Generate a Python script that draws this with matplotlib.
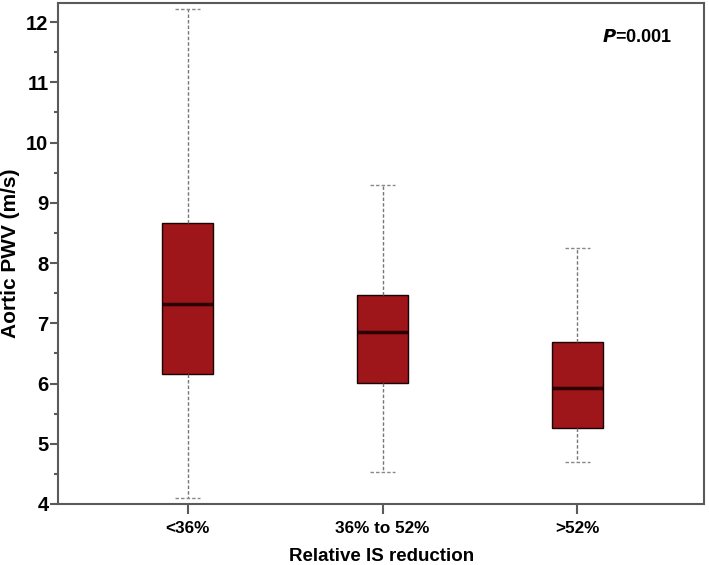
import numpy as np
import matplotlib.pyplot as plt
from matplotlib.ticker import MultipleLocator

plt.rcParams["font.family"] = ["Liberation Sans", "DejaVu Sans"]
plt.rcParams["font.weight"] = "bold"

# box statistics
GROUPS = ["<36%", "36% to 52%", ">52%"]
WHISK_LO = [4.10, 4.53, 4.70]
Q1 = [6.15, 6.01, 5.26]
MEDIAN = [7.32, 6.86, 5.93]
Q3 = [8.67, 7.47, 6.69]
WHISK_HI = [12.22, 9.29, 8.25]

BOX_COLOR = "#9E151A"
SPINE_COLOR = "#5a5a5a"

stats = []
for i, g in enumerate(GROUPS):
    stats.append({"label": g, "whislo": WHISK_LO[i], "q1": Q1[i], "med": MEDIAN[i],
                  "q3": Q3[i], "whishi": WHISK_HI[i], "fliers": []})

fig = plt.figure(figsize=(7.09, 5.65), dpi=100)
ax = fig.add_axes([0.082, 0.108, 0.911, 0.887])

ax.bxp(stats, positions=[1, 2, 3], widths=0.26, patch_artist=True, showfliers=False,
       boxprops=dict(facecolor=BOX_COLOR, edgecolor="#1a0000", linewidth=1.0),
       medianprops=dict(color="#2a0000", linewidth=2.5),
       whiskerprops=dict(color="#777777", linestyle=(0, (2.5, 1.5)), linewidth=1.0),
       capprops=dict(color="#888888", linestyle=(0, (2.5, 1.5)), linewidth=1.0),
       capwidths=0.13)

ax.set_xlim(0.335, 3.65)
ax.set_ylim(4, 12.32)
ax.yaxis.set_major_locator(MultipleLocator(1))
ax.yaxis.set_minor_locator(MultipleLocator(0.5))
ax.tick_params(axis="y", which="major", length=6, width=1.5, color=SPINE_COLOR,
               labelsize=14.5, pad=1)
ax.tick_params(axis="y", which="minor", length=3, width=1.5, color=SPINE_COLOR)
ax.tick_params(axis="x", length=7, width=1.5, color=SPINE_COLOR, labelsize=12.3, pad=5)
ax.set_xticks([1, 2, 3])
ax.set_xticklabels(GROUPS)
for lbl in ax.get_yticklabels() + ax.get_xticklabels():
    lbl.set_fontweight("bold")

for s in ax.spines.values():
    s.set_color(SPINE_COLOR)
    s.set_linewidth(1.5)

ax.set_ylabel("Aortic PWV (m/s)", fontsize=15, fontweight="bold", labelpad=4)
ax.set_xlabel("Relative IS reduction", fontsize=13.5, fontweight="bold", labelpad=9)

ax.text(0.95, 0.93, r"$\bfit{P}$=0.001", transform=ax.transAxes, ha="right", va="center",
        fontsize=13, fontweight="bold")

fig.savefig("out.png", dpi=100)
